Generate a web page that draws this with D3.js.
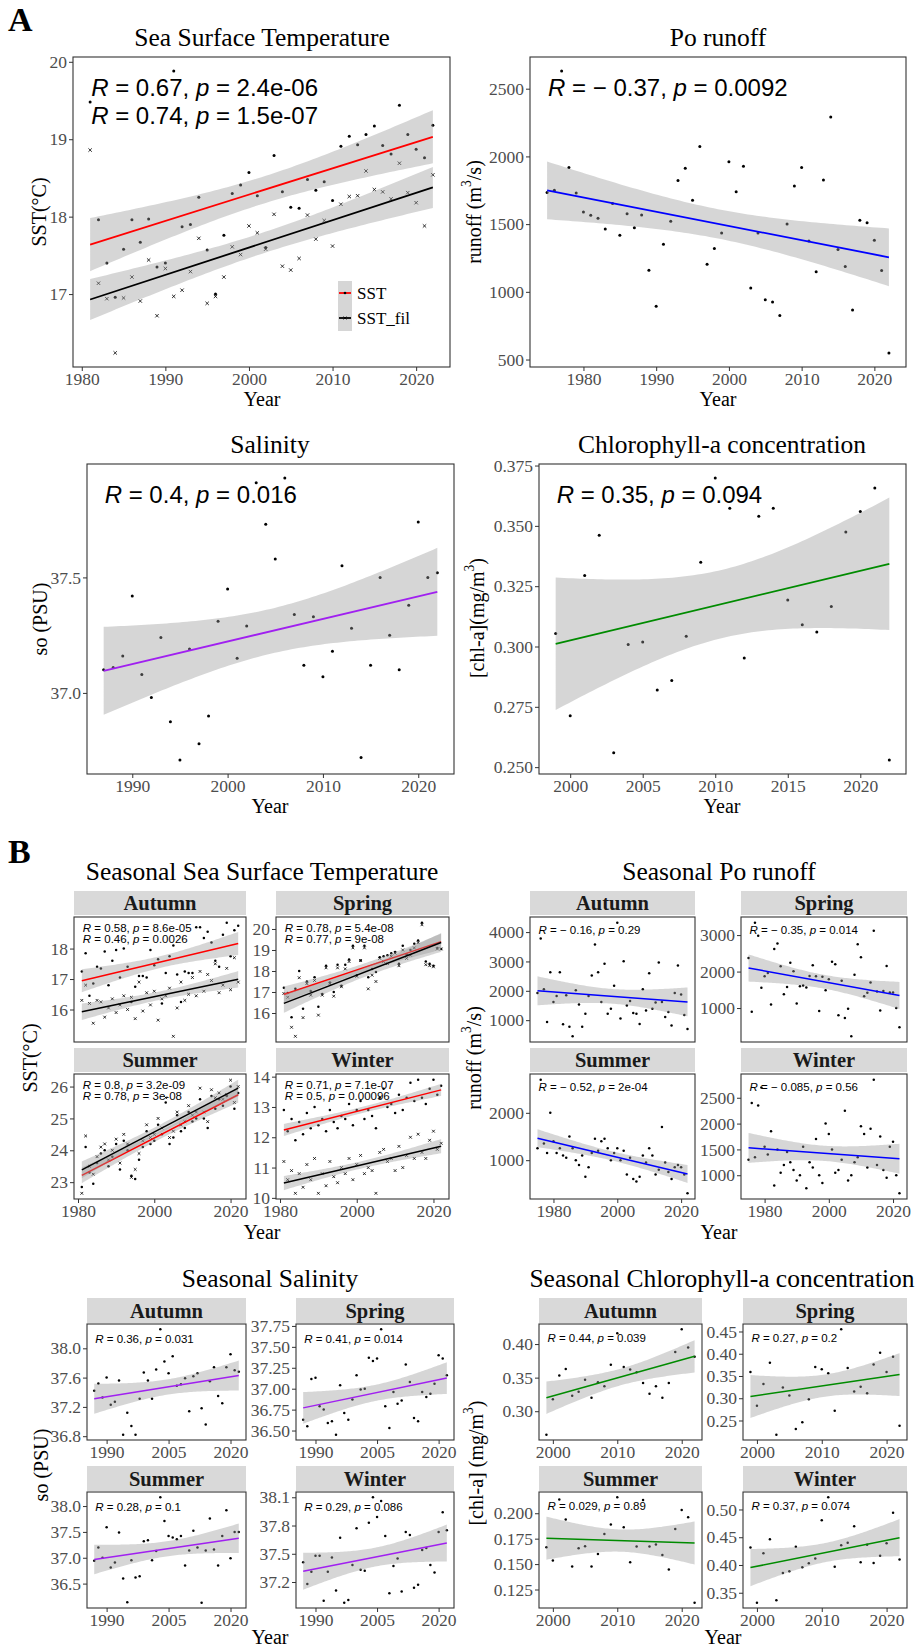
<!DOCTYPE html>
<html>
<head>
<meta charset="utf-8">
<script src="https://cdn.jsdelivr.net/npm/d3@7"></script>
<style>
  html, body { margin: 0; padding: 0; background: #ffffff; }
  svg { display: block; }
</style>
</head>
<body>
<svg id="fig" width="920" height="1648"></svg>
<script>
// ---------------- annual series ----------------
const sstYears = d3.range(1981, 2023);
const sstAnnual = [19.48, 17.96, 17.40, 16.96, 17.58, 17.96, 17.67, 17.97, 17.35, 17.40,
  19.88, 17.87, 17.90, 18.25, 17.57, 17.00, 17.76, 18.30, 18.41, 18.57,
  18.27, 17.60, 18.79, 18.32, 18.12, 18.11, 18.48, 18.34, 18.45, 18.21,
  18.91, 19.04, 18.93, 19.06, 19.17, 18.92, 18.81, 19.44, 19.06, 18.87,
  18.76, 19.18];
const sstFilAnnual = [18.86, 17.14, 16.94, 16.24, 16.95, 17.22, 16.91, 17.44, 16.72, 17.33,
  16.97, 17.05, 17.29, 17.72, 16.88, 16.97, 17.22, 17.61, 17.51, 17.88,
  17.79, 17.58, 18.03, 17.36, 17.31, 17.46, 18.02, 17.71, 17.95, 17.62,
  18.16, 18.26, 18.27, 18.59, 18.35, 18.32, 18.23, 18.69, 18.31, 18.18,
  17.88, 18.54];

const poYears = d3.range(1975, 2023);
const poAnnual = [1734, 1751, 2630, 1918, 1729, 1590, 1565, 1543, 1464, 1653,
  1418, 1577, 1474, 1567, 1160, 893, 1352, 1521, 1823, 1913,
  1676, 2073, 1204, 1320, 1435, 1960, 1739, 1928, 1028, 1435,
  942, 925, 826, 1501, 1781, 1918, 1376, 1148, 1825, 2291,
  1312, 1187, 866, 1528, 1511, 1381, 1158, 549];

const soYears = d3.range(1987, 2023);
const soAnnual = [37.10, 37.11, 37.16, 37.42, 37.08, 36.98, 37.24, 36.875, 36.71, 37.19,
  36.78, 36.90, 37.31, 37.45, 37.15, 37.29, 37.91, 37.73, 37.58, 37.93,
  37.34, 37.12, 37.33, 37.07, 37.18, 37.55, 37.28, 36.72, 37.12, 37.50,
  37.25, 37.10, 37.38, 37.74, 37.50, 37.52];

const chlYears = d3.range(1999, 2023);
const chlAnnual = [0.3054, 0.2713, 0.3294, 0.3461, 0.2560, 0.3008, 0.3019, 0.2820, 0.2859, 0.3043,
  0.3349, 0.3698, 0.3573, 0.2952, 0.3540, 0.3573, 0.3193, 0.3090, 0.3060, 0.3166,
  0.3475, 0.3560, 0.3657, 0.2530];

// ---------------- seasonal series ----------------
const seasons = ["Autumn", "Spring", "Summer", "Winter"];

const sstSeasonal = [
  [17.25, 17.85, 16.45, 16.85, 17.4, 17.35, 17.9, 16.8, 17.6, 17.95, 17.05, 18.0, 17.4, 16.25, 16.75, 17.1, 17.1, 17.05, 17.95, 17.45, 17.65, 16.2, 17.2, 17.75, 18.1, 17.15, 16.25, 17.25, 17.2, 17.2, 18.7, 18.7, 18.35, 18.55, 18.2, 17.6, 17.4, 18.45, 18.85, 17.75, 18.6, 18.75],
  [17.2, 16.95, 15.8, 17.15, 18.0, 16.2, 17.5, 17.05, 17.7, 16.3, 16.9, 18.25, 17.45, 17.0, 18.3, 17.3, 18.3, 18.55, 19.2, 17.8, 18.5, 19.2, 17.7, 18.1, 17.95, 18.65, 18.7, 18.75, 18.85, 18.9, 18.35, 19.2, 18.8, 19.0, 19.3, 19.45, 20.3, 18.45, 18.35, 18.25, 19.1, 19.05],
  [22.85, 24.1, 23.3, 22.95, 23.6, 23.9, 24.0, 23.5, 23.8, 24.2, 23.4, 24.3, 24.0, 23.2, 23.1, 23.7, 24.1, 24.6, 24.2, 24.3, 24.8, 24.5, 25.5, 24.2, 24.4, 25.1, 24.6, 24.7, 25.2, 24.9, 25.0, 25.6, 25.0, 24.7, 25.7, 25.3, 25.6, 25.4, 25.7, 26.0, 25.3, 25.8],
  [12.9, 12.2, 12.6, 11.9, 12.5, 12.1, 12.8, 12.3, 13.0, 12.4, 12.6, 12.2, 12.9, 12.5, 12.3, 12.7, 12.6, 13.1, 12.4, 12.9, 13.2, 12.6, 12.9, 12.7, 12.3, 13.3, 13.6, 13.0, 13.1, 12.8, 13.4, 12.9, 13.3, 13.8, 13.2, 13.9, 13.3, 13.1, 13.6, 13.9, 13.4, 13.7]
];
const sstFilSeasonal = [
  [16.3, 16.8, 16.2, 15.55, 16.3, 16.25, 15.75, 16.05, 16.35, 15.9, 16.15, 16.45, 16.0, 16.4, 15.7, 16.9, 15.95, 16.55, 16.15, 16.6, 15.65, 16.35, 16.45, 16.7, 15.12, 16.05, 16.9, 16.3, 16.5, 17.05, 16.45, 17.25, 16.6, 17.15, 16.95, 17.5, 16.55, 16.8, 17.35, 16.65, 17.7, 16.9],
  [16.93, 16.75, 15.32, 14.89, 17.68, 15.78, 17.4, 16.85, 17.55, 15.9, 16.85, 18.15, 17.4, 16.8, 18.15, 17.25, 18.1, 18.45, 19.1, 17.75, 18.5, 19.1, 17.15, 17.8, 17.5, 18.6, 18.45, 18.35, 18.7, 18.85, 18.25, 19.0, 18.6, 18.75, 19.1, 19.35, 20.2, 18.3, 18.25, 18.2, 19.05, 19.05],
  [22.65, 24.45, 23.5, 23.25, 23.8, 24.1, 24.2, 23.7, 24.0, 24.35, 23.6, 24.5, 24.2, 23.15, 23.4, 23.9, 24.3, 24.8, 24.4, 24.5, 25.0, 24.7, 25.65, 24.4, 24.6, 25.2, 24.8, 24.9, 25.4, 25.1, 25.2, 25.95, 25.2, 24.9, 25.9, 25.65, 25.8, 25.6, 25.75, 26.2, 25.5, 26.0],
  [11.2, 10.6, 10.9, 10.15, 10.8, 10.35, 11.1, 10.6, 11.3, 10.15, 10.8, 10.4, 11.2, 10.7, 10.5, 11.0, 10.8, 11.3, 10.6, 11.1, 11.4, 10.8, 11.0, 10.9, 10.15, 11.5, 11.6, 11.2, 11.3, 10.9, 11.7, 11.0, 11.4, 12.0, 11.3, 12.1, 11.5, 11.3, 11.9, 12.2, 11.6, 11.8]
];
const sstSeasonStats = [
  [["0.58", "8.6e-05"], ["0.46", "0.0026"]],
  [["0.78", "5.4e-08"], ["0.77", "9e-08"]],
  [["0.8", "3.2e-09"], ["0.78", "3e-08"]],
  [["0.71", "7.1e-07"], ["0.5", "0.00096"]]
];
const sstSeasonYTicks = [[16, 17, 18], [16, 17, 18, 19, 20], [23, 24, 25, 26], [10, 11, 12, 13, 14]];

const poSeasonal = [
  [1922, 3785, 2050, 940, 2635, 1615, 1820, 2635, 860, 1850, 780, 450, 2020, 1530, 780, 1220, 1820, 2520, 3580, 2635, 1615, 2920, 1220, 1385, 2170, 4320, 1060, 3010, 1500, 1650, 1240, 1220, 870, 2050, 1330, 2600, 1390, 1600, 2960, 1620, 1110, 1280, 820, 1925, 2860, 1870, 1180, 700],
  [2375, 896, 3340, 2985, 1553, 1870, 1960, 1095, 2620, 2770, 2145, 1380, 1580, 2245, 2010, 1125, 1600, 1620, 1565, 1880, 2175, 1870, 920, 1860, 1490, 1790, 2270, 2200, 800, 1745, 730, 980, 225, 1915, 2750, 2390, 1320, 1420, 1700, 3120, 1455, 930, 1470, 2150, 1425, 1425, 1000, 474],
  [1250, 2700, 1350, 1150, 2000, 1400, 1150, 1250, 1100, 1050, 1500, 1250, 1000, 900, 1100, 650, 850, 1150, 1450, 1200, 1400, 1450, 1250, 1000, 1150, 1250, 1000, 1200, 700, 1050, 600, 550, 650, 1100, 950, 1250, 1100, 700, 800, 1700, 950, 750, 600, 850, 900, 850, 700, 300],
  [1300, 2400, 1350, 2350, 2700, 1550, 1400, 1850, 800, 1500, 1050, 1200, 1450, 1250, 1100, 900, 1000, 1550, 750, 1250, 1150, 1700, 1000, 850, 2000, 1800, 1500, 1050, 1100, 1300, 2250, 900, 1000, 1250, 1350, 1950, 1800, 1150, 1900, 2850, 1200, 1750, 1100, 950, 1550, 1650, 1000, 650]
];
const poSeasonStats = [["\u2212 0.16", "0.29"], ["\u2212 0.35", "0.014"], ["\u2212 0.52", "2e-04"], ["\u2212 0.085", "0.56"]];
const poSeasonYTicks = [[1000, 2000, 3000, 4000], [1000, 2000, 3000], [1000, 2000], [1000, 1500, 2000, 2500]];

const soSeasonal = [
  [37.42, 37.52, 37.33, 37.60, 37.23, 37.27, 37.56, 36.82, 37.12, 36.94, 36.82, 37.31, 37.67, 37.56, 37.31, 37.71, 38.26, 37.82, 37.66, 37.89, 37.49, 37.51, 37.59, 37.14, 37.62, 37.66, 37.18, 36.96, 37.55, 37.74, 37.35, 37.25, 37.74, 37.92, 37.70, 37.68],
  [36.63, 36.55, 37.115, 37.13, 36.79, 36.75, 36.59, 36.61, 36.45, 37.04, 36.71, 36.63, 36.87, 37.16, 36.99, 37.00, 37.37, 37.33, 37.36, 37.71, 36.79, 36.53, 36.96, 36.82, 36.86, 37.29, 37.08, 36.65, 36.61, 36.96, 36.90, 36.94, 37.06, 37.40, 37.36, 37.16],
  [36.94, 37.20, 37.00, 37.59, 36.81, 36.91, 37.49, 36.60, 36.14, 36.95, 36.62, 36.64, 37.32, 37.34, 36.95, 37.13, 38.17, 37.71, 37.42, 37.39, 37.36, 37.42, 36.85, 37.14, 37.52, 37.20, 36.13, 37.14, 37.76, 37.16, 36.85, 37.42, 37.92, 36.99, 37.50, 37.50],
  [37.41, 37.18, 37.31, 37.48, 37.48, 37.00, 37.31, 37.46, 37.11, 37.67, 36.98, 37.01, 37.38, 37.77, 37.33, 37.32, 37.83, 38.10, 37.89, 38.06, 37.69, 37.08, 37.37, 37.45, 37.10, 37.73, 37.70, 37.14, 37.17, 37.54, 37.56, 37.38, 37.30, 37.73, 37.94, 37.75]
];
const soSeasonStats = [["0.36", "0.031"], ["0.41", "0.014"], ["0.28", "0.1"], ["0.29", "0.086"]];
const soSeasonYTicks = [[36.8, 37.2, 37.6, 38.0], [36.5, 36.75, 37.0, 37.25, 37.5, 37.75], [36.5, 37.0, 37.5, 38.0], [37.2, 37.5, 37.8, 38.1]];
const soSeasonYFormats = [".1f", ".2f", ".1f", ".1f"];

const chlSeasonal = [
  [0.265, 0.318, 0.353, 0.363, 0.323, 0.329, 0.347, 0.320, 0.343, 0.337, 0.369, 0.416, 0.366, 0.362, 0.358, 0.342, 0.326, 0.337, 0.320, 0.342, 0.388, 0.422, 0.395, 0.381],
  [0.359, 0.283, 0.332, 0.380, 0.218, 0.324, 0.306, 0.231, 0.246, 0.298, 0.370, 0.365, 0.356, 0.272, 0.455, 0.368, 0.315, 0.326, 0.311, 0.376, 0.402, 0.359, 0.393, 0.238],
  [0.1666, 0.1535, 0.2134, 0.1938, 0.1476, 0.1656, 0.1676, 0.1476, 0.1600, 0.1797, 0.1889, 0.2157, 0.1862, 0.1519, 0.1672, 0.2131, 0.1672, 0.1692, 0.1590, 0.1447, 0.1846, 0.2033, 0.1961, 0.1120],
  [0.4315, 0.332, 0.421, 0.4464, 0.3363, 0.3857, 0.3887, 0.4327, 0.3958, 0.403, 0.4119, 0.4804, 0.522, 0.397, 0.4357, 0.440, 0.4696, 0.4048, 0.4363, 0.4036, 0.4167, 0.4393, 0.494, 0.410]
];
const chlSeasonStats = [["0.44", "0.039"], ["0.27", "0.2"], ["0.029", "0.89"], ["0.37", "0.074"]];
const chlSeasonYTicks = [[0.30, 0.35, 0.40], [0.25, 0.30, 0.35, 0.40, 0.45], [0.125, 0.150, 0.175, 0.200], [0.35, 0.40, 0.45, 0.50]];
const chlSeasonYFormats = [".2f", ".2f", ".3f", ".2f"];

// ---------------- drawing helpers ----------------
const SERIF = "'Liberation Serif', 'Times New Roman', serif";
const SANS = "'Liberation Sans', Arial, sans-serif";
const svg = d3.select("#fig");
svg.append("rect").attr("width", 920).attr("height", 1648).attr("fill", "#ffffff");

function expand(ext, f = 0.05) {
  const r = ext[1] - ext[0];
  return [ext[0] - r * f, ext[1] + r * f];
}

// ordinary least squares fit with a 95% confidence band
function linFit(xs, ys) {
  const n = xs.length, mx = d3.mean(xs), my = d3.mean(ys);
  let sxx = 0, sxy = 0;
  xs.forEach((x, i) => { sxx += (x - mx) ** 2; sxy += (x - mx) * (ys[i] - my); });
  const b = sxy / sxx, a = my - b * mx;
  let sse = 0;
  xs.forEach((x, i) => { const e = ys[i] - (a + b * x); sse += e * e; });
  return { a, b, n, mx, sxx, s: Math.sqrt(sse / (n - 2)), t: 1.96 + 2.4 / (n - 2) };
}
function ciAt(f, x) {
  const yh = f.a + f.b * x;
  const se = f.s * Math.sqrt(1 / f.n + (x - f.mx) ** 2 / f.sxx);
  return [yh - f.t * se, yh + f.t * se];
}

function styleAxis(sel, size) {
  sel.attr("font-family", SERIF).attr("font-size", size);
  sel.select(".domain").remove();
  sel.selectAll(".tick line").attr("stroke", "#333333").attr("stroke-width", 1);
  sel.selectAll(".tick text").attr("fill", "#4D4D4D").attr("font-family", SERIF).attr("font-size", size);
}

function statText(g, x, y, r, p, size) {
  const t = g.append("text").attr("x", x).attr("y", y)
    .attr("font-family", SANS).attr("font-size", size).attr("fill", "#000");
  t.append("tspan").attr("font-style", "italic").text("R");
  t.append("tspan").text(" = " + r + ", ");
  t.append("tspan").attr("font-style", "italic").text("p");
  t.append("tspan").text(" = " + p);
}

function drawPanel(p) {
  const g = svg.append("g");
  const [xa, xb] = d3.extent(p.years);
  const x = d3.scaleLinear().domain(expand([xa, xb])).range([p.left, p.right]);
  const fits = p.series.map(s => linFit(p.years, s.values));
  const xs = d3.range(0, 81).map(i => xa + (xb - xa) * i / 80);
  const bandVals = fits.flatMap(f => xs.flatMap(v => ciAt(f, v)));
  const allVals = p.series.flatMap(s => s.values).concat(bandVals);
  const y = d3.scaleLinear().domain(expand(d3.extent(allVals))).range([p.bottom, p.top]);

  // points
  p.series.forEach(s => {
    if (s.shape === "x") {
      const a = p.xHalf;
      g.append("g").selectAll("path").data(p.years).join("path")
        .attr("d", (d, i) => {
          const cx = x(d), cy = y(s.values[i]);
          return `M${cx - a},${cy - a}L${cx + a},${cy + a}M${cx - a},${cy + a}L${cx + a},${cy - a}`;
        })
        .attr("stroke", "#000").attr("stroke-width", 0.8).attr("fill", "none");
    } else {
      g.append("g").selectAll("circle").data(p.years).join("circle")
        .attr("cx", d => x(d)).attr("cy", (d, i) => y(s.values[i]))
        .attr("r", p.ptR).attr("fill", "#000");
    }
  });

  // regression bands and lines
  p.series.forEach((s, k) => {
    const f = fits[k];
    const area = d3.area().x(d => x(d)).y0(d => y(ciAt(f, d)[0])).y1(d => y(ciAt(f, d)[1]));
    g.append("path").attr("d", area(xs)).attr("fill", "#999999").attr("fill-opacity", 0.4);
    g.append("line")
      .attr("x1", x(xa)).attr("y1", y(f.a + f.b * xa))
      .attr("x2", x(xb)).attr("y2", y(f.a + f.b * xb))
      .attr("stroke", s.color).attr("stroke-width", p.lineW);
  });

  // border
  g.append("rect").attr("x", p.left).attr("y", p.top)
    .attr("width", p.right - p.left).attr("height", p.bottom - p.top)
    .attr("fill", "none").attr("stroke", "#333333").attr("stroke-width", 1.1);

  // axes
  if (p.showX !== false) {
    const ax = g.append("g").attr("transform", `translate(0,${p.bottom})`)
      .call(d3.axisBottom(x).tickValues(p.xTicks).tickFormat(d3.format("d")).tickSize(4).tickPadding(1.5));
    styleAxis(ax, p.tickSize);
  }
  const ay = g.append("g").attr("transform", `translate(${p.left},0)`)
    .call(d3.axisLeft(y).tickValues(p.yTicks).tickFormat(d3.format(p.yFmt)).tickSize(4).tickPadding(2));
  styleAxis(ay, p.tickSize);

  // correlation labels
  p.stats.forEach((st, i) => {
    statText(g, x(xa) + 1, p.top + p.statBase + i * p.statGap, st[0], st[1], p.statSize);
  });
  return { g, x, y };
}

function serifText(x, y, str, size, opts = {}) {
  const t = svg.append("text").attr("x", x).attr("y", y)
    .attr("font-family", SERIF).attr("font-size", size)
    .attr("text-anchor", opts.anchor || "middle").attr("fill", opts.fill || "#000");
  if (opts.bold) t.attr("font-weight", "bold");
  t.text(str);
  return t;
}

function yTitle(x, y, parts, size) {
  const t = svg.append("text")
    .attr("transform", `translate(${x},${y}) rotate(-90)`)
    .attr("text-anchor", "middle").attr("dominant-baseline", "central")
    .attr("font-family", SERIF).attr("font-size", size).attr("fill", "#000");
  parts.forEach(pt => {
    const s = t.append("tspan").text(pt.t);
    if (pt.sup) s.attr("baseline-shift", "super").attr("font-size", size * 0.68);
  });
}

// ---------------- A: annual panels ----------------
serifText(8, 31, "A", 34, { anchor: "start", bold: true });

const annualCommon = { tickSize: 17.5, statSize: 24, statBase: 39, statGap: 28, ptR: 1.5, xHalf: 1.7, lineW: 1.8 };

drawPanel(Object.assign({}, annualCommon, {
  left: 73, right: 450, top: 57, bottom: 367, years: sstYears,
  series: [{ values: sstAnnual, color: "#FF0000", shape: "dot" }, { values: sstFilAnnual, color: "#000000", shape: "x" }],
  xTicks: [1980, 1990, 2000, 2010, 2020], yTicks: [17, 18, 19, 20], yFmt: "d",
  stats: [["0.67", "2.4e-06"], ["0.74", "1.5e-07"]]
}));
serifText(262, 46, "Sea Surface Temperature", 25.5);
serifText(262, 406, "Year", 20);
yTitle(38.5, 212, [{ t: "SST(°C)" }], 20);

// legend
(function () {
  const lg = svg.append("g");
  const keys = [{ label: "SST", color: "#FF0000", shape: "dot" }, { label: "SST_fil", color: "#000000", shape: "x" }];
  keys.forEach((k, i) => {
    const cy = 293 + i * 25;
    lg.append("rect").attr("x", 338).attr("y", cy - 12).attr("width", 14).attr("height", 25).attr("fill", "#D6D6D6");
    lg.append("line").attr("x1", 339).attr("x2", 351).attr("y1", cy).attr("y2", cy)
      .attr("stroke", k.color).attr("stroke-width", 1.8);
    if (k.shape === "dot") {
      lg.append("circle").attr("cx", 345).attr("cy", cy).attr("r", 1.3).attr("fill", "#000");
    } else {
      lg.append("path").attr("d", `M343.5,${cy - 1.5}L346.5,${cy + 1.5}M343.5,${cy + 1.5}L346.5,${cy - 1.5}`)
        .attr("stroke", "#000").attr("stroke-width", 0.8);
    }
    serifText(357, cy + 6, k.label, 17, { anchor: "start" });
  });
})();

drawPanel(Object.assign({}, annualCommon, {
  left: 530, right: 906, top: 57, bottom: 367, years: poYears,
  series: [{ values: poAnnual, color: "#0000FF", shape: "dot" }],
  xTicks: [1980, 1990, 2000, 2010, 2020], yTicks: [500, 1000, 1500, 2000, 2500], yFmt: "d",
  stats: [["\u2212 0.37", "0.0092"]]
}));
serifText(718, 46, "Po runoff", 25.5);
serifText(718, 406, "Year", 20);
yTitle(474, 212, [{ t: "runoff (m" }, { t: "3", sup: true }, { t: "/s)" }], 20);

drawPanel(Object.assign({}, annualCommon, {
  left: 87, right: 454, top: 464, bottom: 774, years: soYears,
  series: [{ values: soAnnual, color: "#A020F0", shape: "dot" }],
  xTicks: [1990, 2000, 2010, 2020], yTicks: [37.0, 37.5], yFmt: ".1f",
  stats: [["0.4", "0.016"]]
}));
serifText(270, 453, "Salinity", 25.5);
serifText(270, 813, "Year", 20);
yTitle(40, 619, [{ t: "so (PSU)" }], 20);

drawPanel(Object.assign({}, annualCommon, {
  left: 539, right: 906, top: 464, bottom: 774, years: chlYears,
  series: [{ values: chlAnnual, color: "#008B00", shape: "dot" }],
  xTicks: [2000, 2005, 2010, 2015, 2020], yTicks: [0.25, 0.275, 0.3, 0.325, 0.35, 0.375], yFmt: ".3f",
  stats: [["0.35", "0.094"]]
}));
serifText(722, 453, "Chlorophyll-a concentration", 25.5);
serifText(722, 813, "Year", 20);
yTitle(477, 618, [{ t: "[chl-a](mg/m" }, { t: "3", sup: true }, { t: ")" }], 20);

// ---------------- B: seasonal facets ----------------
serifText(8, 863, "B", 34, { anchor: "start", bold: true });

const seasonCommon = { tickSize: 17.5, statSize: 11.5, ptR: 1.25, xHalf: 1.4, lineW: 1.5 };

function strip(left, right, top, h, label) {
  svg.append("rect").attr("x", left).attr("y", top).attr("width", right - left).attr("height", h).attr("fill", "#D9D9D9");
  serifText((left + right) / 2, top + h / 2 + 7, label, 20.5, { bold: true, fill: "#1A1A1A" });
}

// facet grid: columns and rows for each group
function facetGroup(cfg) {
  seasons.forEach((name, i) => {
    const col = cfg.cols[i % 2];
    const rowIdx = Math.floor(i / 2);
    const row = cfg.rows[rowIdx];
    strip(col[0], col[1], row.strip, cfg.stripH, name);
    drawPanel(Object.assign({}, seasonCommon, {
      left: col[0], right: col[1], top: row.top, bottom: row.top + cfg.panelH,
      years: cfg.years, series: cfg.series(i), xTicks: cfg.xTicks,
      showX: cfg.freeX || rowIdx === 1,
      yTicks: cfg.yTicks[i], yFmt: cfg.yFmt[i], stats: cfg.stats[i],
      statBase: cfg.statBase, statGap: 11
    }));
  });
}

const rowsTop = [{ strip: 891, top: 917 }, { strip: 1048, top: 1074 }];
const rowsBottom = [{ strip: 1298, top: 1324 }, { strip: 1466, top: 1492 }];

facetGroup({
  cols: [[74, 246], [276, 449]], rows: rowsTop, stripH: 24, panelH: 125, freeX: false,
  years: sstYears, xTicks: [1980, 2000, 2020],
  series: i => [{ values: sstSeasonal[i], color: "#FF0000", shape: "dot" }, { values: sstFilSeasonal[i], color: "#000000", shape: "x" }],
  yTicks: sstSeasonYTicks, yFmt: ["d", "d", "d", "d"], stats: sstSeasonStats, statBase: 14.5
});
serifText(262, 880, "Seasonal Sea Surface Temperature", 25.5);
serifText(262, 1239, "Year", 20);
yTitle(30, 1058, [{ t: "SST(°C)" }], 20);

facetGroup({
  cols: [[530, 695], [741, 907]], rows: rowsTop, stripH: 24, panelH: 125, freeX: false,
  years: poYears, xTicks: [1980, 2000, 2020],
  series: i => [{ values: poSeasonal[i], color: "#0000FF", shape: "dot" }],
  yTicks: poSeasonYTicks, yFmt: ["d", "d", "d", "d"], stats: poSeasonStats.map(s => [s]), statBase: 17
});
serifText(719, 880, "Seasonal Po runoff", 25.5);
serifText(719, 1239, "Year", 20);
yTitle(474, 1058, [{ t: "runoff (m" }, { t: "3", sup: true }, { t: "/s)" }], 20);

facetGroup({
  cols: [[87, 246], [296, 454]], rows: rowsBottom, stripH: 25, panelH: 116, freeX: true,
  years: soYears, xTicks: [1990, 2005, 2020],
  series: i => [{ values: soSeasonal[i], color: "#A020F0", shape: "dot" }],
  yTicks: soSeasonYTicks, yFmt: soSeasonYFormats, stats: soSeasonStats.map(s => [s]), statBase: 18.5
});
serifText(270, 1287, "Seasonal Salinity", 25.5);
serifText(270, 1644, "Year", 20);
yTitle(41, 1465, [{ t: "so (PSU)" }], 20);

facetGroup({
  cols: [[539, 702], [743, 907]], rows: rowsBottom, stripH: 25, panelH: 116, freeX: true,
  years: chlYears, xTicks: [2000, 2010, 2020],
  series: i => [{ values: chlSeasonal[i], color: "#008B00", shape: "dot" }],
  yTicks: chlSeasonYTicks, yFmt: chlSeasonYFormats, stats: chlSeasonStats.map(s => [s]), statBase: 18
});
serifText(722, 1287, "Seasonal Chlorophyll-a concentration", 25.5);
serifText(723, 1644, "Year", 20);
yTitle(476, 1463, [{ t: "[chl-a] (mg/m" }, { t: "3", sup: true }, { t: ")" }], 20);
</script>
</body>
</html>
